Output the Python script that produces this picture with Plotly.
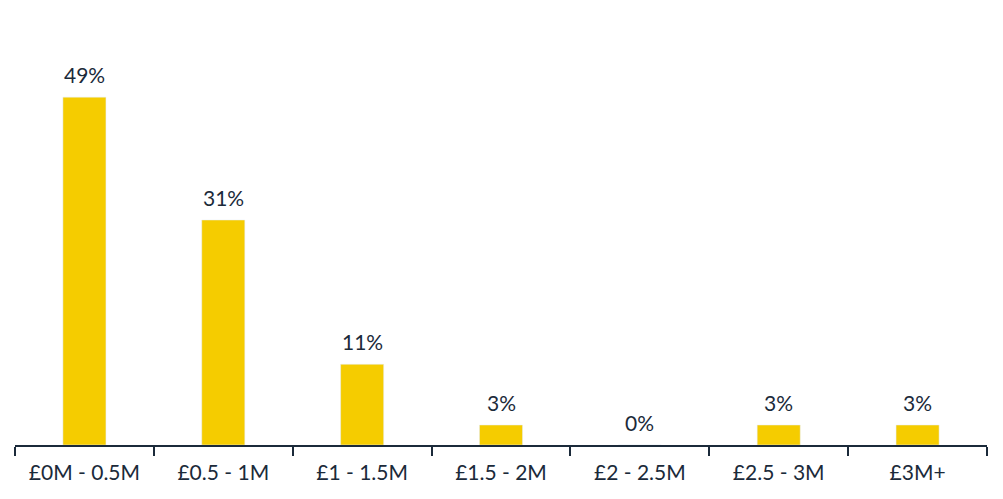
import plotly.graph_objects as go

categories = ["£0M - 0.5M", "£0.5 - 1M", "£1 - 1.5M", "£1.5 - 2M", "£2 - 2.5M", "£2.5 - 3M", "£3M+"]
values = [48.7, 31.5, 11.3, 2.8, 0.0, 2.8, 2.8]
labels = ["49%", "31%", "11%", "3%", "0%", "3%", "3%"]

BAR = "#F5CC00"
TXT = "#1B2A3A"
FONT = "Lato, 'Open Sans', sans-serif"

fig = go.Figure(go.Bar(x=categories, y=values, marker_color=BAR, width=0.31))

for c, v, t in zip(categories, values, labels):
    fig.add_annotation(x=c, y=v, text=t, showarrow=False, yanchor="bottom", yshift=8,
                       font=dict(family=FONT, size=21, color=TXT))

fig.update_layout(
    width=1003, height=499,
    margin=dict(l=7, r=24, t=12, b=62, autoexpand=False),
    paper_bgcolor="white", plot_bgcolor="white",
    showlegend=False,
    font=dict(family=FONT, size=21, color=TXT),
)
fig.update_xaxes(showline=True, linecolor=TXT, linewidth=1.5, ticks="outside", tickson="boundaries",
                 ticklen=9, tickcolor=TXT, tickwidth=1.5, showgrid=False, automargin=False,
                 ticklabelstandoff=8,
                 tickfont=dict(family=FONT, size=21, color=TXT))
fig.update_yaxes(visible=False, range=[0, 59.5], showgrid=False, automargin=False)

fig.write_html("out.html")
